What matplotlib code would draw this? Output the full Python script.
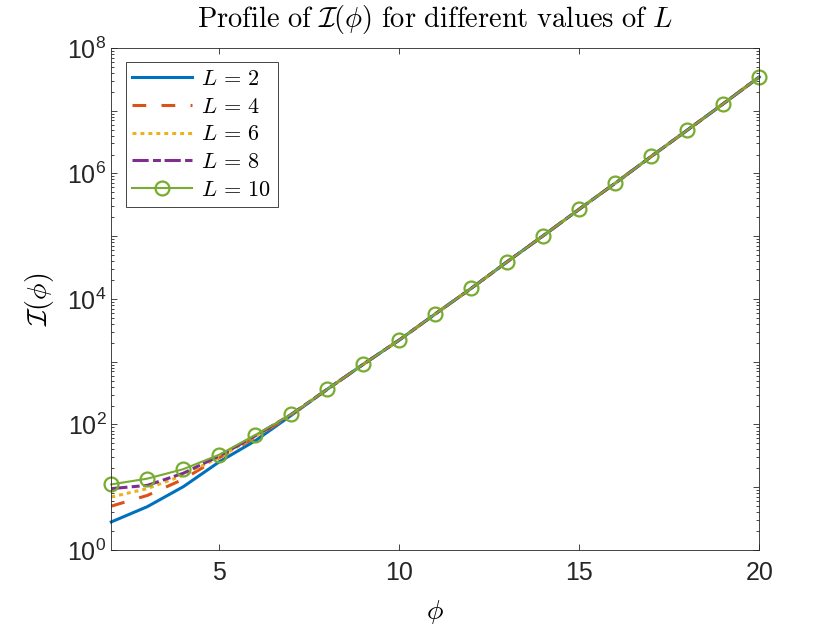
import numpy as np
import matplotlib
matplotlib.use("Agg")
import matplotlib.pyplot as plt
from matplotlib.font_manager import FontProperties
from matplotlib.ticker import FixedLocator, FuncFormatter

# tick labels in a Helvetica-like font, math labels in Computer Modern
plt.rcParams['font.family'] = 'Liberation Sans'
plt.rcParams['mathtext.fontset'] = 'custom'
plt.rcParams['mathtext.rm'] = 'Liberation Sans'
plt.rcParams['mathtext.it'] = 'Liberation Sans:italic'
plt.rcParams['mathtext.bf'] = 'Liberation Sans:bold'

phi = [2, 3, 4, 5, 6, 7, 8, 9, 10, 11, 12, 13, 14, 15, 16, 17, 18, 19, 20]

# values for phi >= 8 are shared by every L (the curves overlap there)
tail = [364, 910, 2220, 5770, 14800, 39300, 1.02e5, 2.7e5, 7.0e5,
        1.87e6, 4.9e6, 1.29e7, 3.45e7]

I_L2 = [2.8, 4.9, 10.2, 25.4, 55, 140] + tail
I_L4 = [5.0, 7.4, 13.4, 29.5, 62, 143] + tail
I_L6 = [7.0, 9.5, 15.5, 30, 64, 144] + tail
I_L8 = [9.5, 10.7, 16.7, 31.5, 66, 145] + tail
I_L10 = [11.1, 13.7, 19.4, 33, 68, 145] + tail

labels = [r'$L\,=\,2$', r'$L\,=\,4$', r'$L\,=\,6$', r'$L\,=\,8$', r'$L\,=\,10$']

fig = plt.figure(figsize=(8.4, 6.3), dpi=100)
ax = fig.add_axes([0.1325, 0.127, 0.7715, 0.797])

ax.plot(phi, I_L2, color='#0072BD', lw=2.2, label=labels[0], clip_on=False)
ax.plot(phi, I_L4, color='#D95319', lw=2.2, dashes=(4.5, 5), label=labels[1], clip_on=False)
ax.plot(phi, I_L6, color='#EDB120', lw=2.2, dashes=(1.3, 1.3), label=labels[2], clip_on=False)
ax.plot(phi, I_L8, color='#7E2F8E', lw=2.2, dashes=(5.3, 1.4, 2.6, 1.2), label=labels[3],
        clip_on=False)
ax.plot(phi, I_L10, color='#77AC30', lw=1.5, marker='o', ms=10, mfc='none',
        mew=1.6, label=labels[4], clip_on=False)

ax.set_yscale('log')
ax.set_xlim(2, 20)
ax.set_ylim(1, 1e8)
ax.set_xticks([5, 10, 15, 20])
ax.xaxis.set_minor_locator(FixedLocator([]))
ax.yaxis.set_major_locator(FixedLocator([10.0**k for k in range(9)]))
ax.yaxis.set_minor_locator(FixedLocator([m * 10.0**k for k in range(8) for m in range(2, 10)]))


def ylab(v, pos):
    k = int(round(np.log10(v)))
    return f'$10^{{{k}}}$' if k % 2 == 0 else ''


ax.yaxis.set_major_formatter(FuncFormatter(ylab))

ax.tick_params(which='both', direction='in', top=True, right=True,
               colors='#262626', width=0.6, labelsize=18)
ax.tick_params(which='major', length=4)
ax.tick_params(which='minor', length=2.2)
ax.tick_params(axis='x', pad=8)
for s in ax.spines.values():
    s.set_color('#262626')
    s.set_linewidth(0.6)

ax.set_title(r'$\mathrm{Profile\ of\ }\mathcal{I}(\phi)\mathrm{\ for\ different\ values\ of\ }L$',
             fontsize=20.5, math_fontfamily='cm', pad=15)
ax.set_xlabel(r'$\phi$', fontsize=20, math_fontfamily='cm', labelpad=9)
ax.set_ylabel(r'$\mathcal{I}(\phi)$', fontsize=20, math_fontfamily='cm', labelpad=8)

leg = ax.legend(loc='upper left', prop=FontProperties(size=16, math_fontfamily='cm'),
                fancybox=False, edgecolor='#262626', framealpha=1,
                handlelength=2.7, handletextpad=0.4, labelspacing=0.3,
                borderaxespad=0.65, borderpad=0.3)
leg.get_frame().set_linewidth(0.6)

fig.savefig('out.png', dpi=100)
